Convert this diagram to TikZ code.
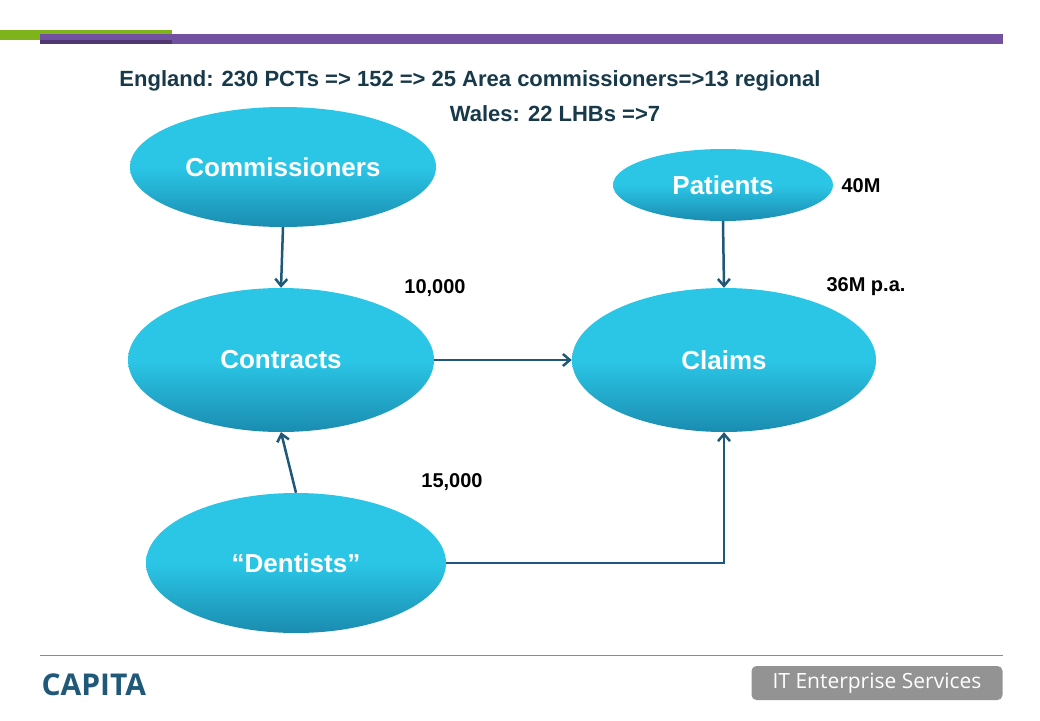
\documentclass[tikz,border=0pt]{standalone}
\usepackage{fontspec}
\setmainfont{Liberation Sans}
\newfontfamily\logofont{Open Sans}
\usetikzlibrary{shapes.geometric,arrows.meta}
\definecolor{titleblue}{HTML}{17394A}
\definecolor{linkblue}{HTML}{1F5878}
\definecolor{bubtop}{HTML}{2BC6E6}
\definecolor{bubbot}{HTML}{1A8CB0}
\definecolor{barpurple}{HTML}{7251A0}
\definecolor{bargreen}{HTML}{7FB31C}
\tikzset{
  bubble/.style={ellipse, top color=bubtop, bottom color=bubbot, middle color=bubtop,
    draw=none, text=white, font=\fontsize{26}{30}\selectfont\bfseries},
  figure/.style={font=\fontsize{20}{24}\selectfont\bfseries, text=black},
  link/.style={draw=linkblue, line width=2.5pt, -{Straight Barb[length=7pt,width=12pt]}}
}
\begin{document}
\begin{tikzpicture}[x=1pt,y=-1pt]
    \useasboundingbox (0,0) rectangle (1040,720);
    % top bars
    \fill[bargreen] (0,30) rectangle (172,40);
    \fill[barpurple] (40,34) rectangle (1003,44);
    \fill[barpurple!70!black] (40,40) rectangle (172,44);

    \node[text=titleblue, font=\fontsize{22}{26}\selectfont\bfseries] (title1) at (470,81) {England: 230 PCTs => 152 => 25 Area commissioners=>13 regional};
    \node[text=titleblue, font=\fontsize{22}{26}\selectfont\bfseries] (title2) at (555,114) {Wales: 22 LHBs =>7};

    \node[bubble, minimum width=306pt, minimum height=120pt] (comm) at (283,167) {Commissioners};
    \node[bubble, minimum width=220pt, minimum height=72pt] (pat) at (723,185) {Patients};
    \node[bubble, minimum width=306pt, minimum height=144pt] (contr) at (281,360) {Contracts};
    \node[bubble, minimum width=304pt, minimum height=144pt] (claims) at (724,360) {Claims};
    \node[bubble, minimum width=300pt, minimum height=140pt] (dent) at (296,563) {``Dentists''};

    \node[figure] (n10k) at (435,288) {10,000};
    \node[figure] (n40m) at (861,186) {40M};
    \node[figure] (n36m) at (866,287) {36M p.a.};
    \node[figure] (n15k) at (452,482) {15,000};

    \draw[link] (comm.south) -- (contr.north);
    \draw[link] (pat.south) -- (claims.north);
    \draw[link] (contr.east) -- (claims.west);
    \draw[link] (dent.north) -- (contr.south);
    \draw[link] (dent.east) -- (claims.south |- dent.east) -- (claims.south);

    % footer
    \draw[draw=bubbot!80, line width=1pt] (40,655) -- (1003,655);
    \node[anchor=west, text=linkblue, font=\logofont\fontsize{30}{34}\selectfont\bfseries] (logo) at (38,685) {CAPITA};
    \node[fill=gray!85, rounded corners=5pt, text=white, minimum width=251pt, minimum height=34pt,
      font=\logofont\fontsize{21}{24}\selectfont] (unit) at (877,683) {IT Enterprise Services};
\end{tikzpicture}
\end{document}
